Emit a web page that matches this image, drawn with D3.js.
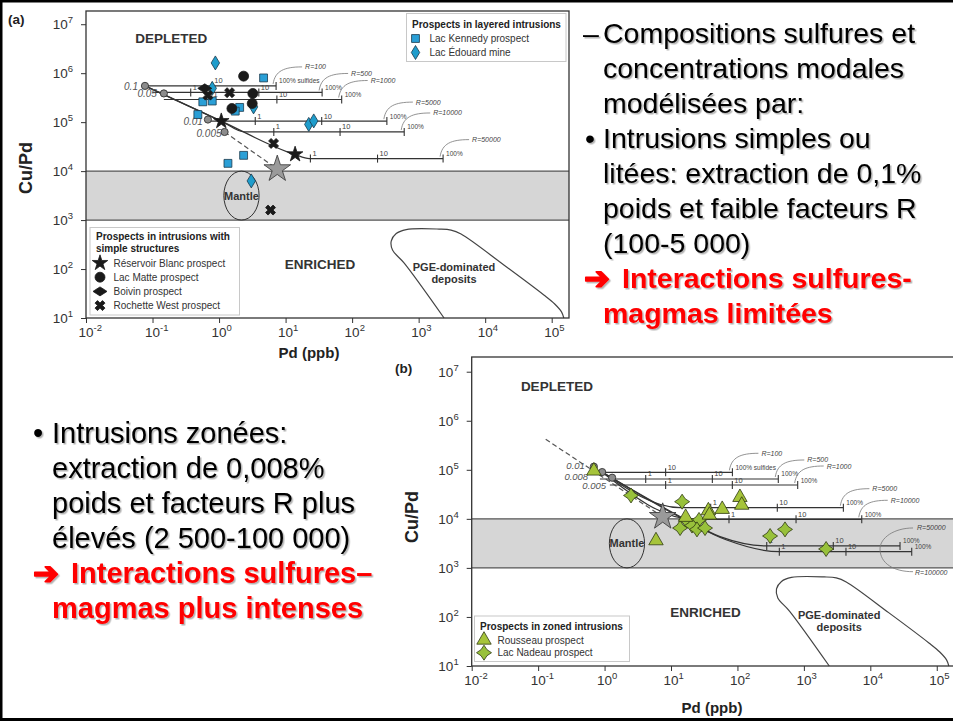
<!DOCTYPE html>
<html>
<head>
<meta charset="utf-8">
<script src="https://cdn.jsdelivr.net/npm/d3@7"></script>
<style>
  body { margin: 0; background: #fff; }
  svg { display: block; font-family: Arial, "Liberation Sans", sans-serif; }
</style>
</head>
<body>
<svg id="slide" width="953" height="721"></svg>
<script>
// ---------- data ----------
var xDecades = [-2, -1, 0, 1, 2, 3, 4, 5];
var yDecades = [1, 2, 3, 4, 5, 6, 7];

var mantleBand = [1e3, 1e4];           // grey Cu/Pd band
var mantlePd = [1.18, 4.0];             // mantle ellipse, Pd extent
var mantleCuPd = [1e3, 1e4];            // mantle ellipse, Cu/Pd extent
var primitiveMantle = [7.5, 1.1e4];     // grey star
var pgeOutline = [[2410, 10], [607, 132], [405, 244], [387, 372], [460, 530], [650, 640],
  [2030, 655], [3070, 625], [4340, 518], [19100, 121], [76200, 29.5], [111000, 19.3],
  [141000, 13.2], [152000, 10]];

// (a) simple / layered intrusions
var extractLabelsA = ['0.1', '0.05', '0.01', '0.005'];
var extractPtsA = [[0.077, 5.5e5], [0.148, 3.86e5], [0.68, 1.13e5], [1.21, 6.3e4]];
var dashedA = [[1.21, 6.3e4], [7.5, 1.1e4]];
var rFactorsA = [100, 500, 1000, 5000, 10000, 50000];
var rPathsA = [
  [[0.077, 5.5e5], [7.2, 5.5e5]],
  [[0.1, 4.04e5], [35.4, 4.04e5]],
  [[0.148, 2.9e5], [69.7, 2.9e5]],
  [[0.68, 1.05e5], [333, 1.05e5]],
  [[0.077, 5.5e5], [1.08, 1.05e5], [2.42, 6.3e4], [607, 6.3e4]],
  [[0.077, 5.5e5], [1.08, 1.05e5], [13.6, 2.2e4], [22.8, 1.8e4], [2330, 1.8e4]]
];
var rTicksA = [[0.79, 7.2], [0.375, 3.96, 35.4], [0.77, 7.4, 69.7], [3.5, 34.9, 333], [6.65, 65.9, 607], [23.6, 241, 2330]];
var rTickPctA = [[10, 100], [1, 10, 100], [1, 10, 100], [1, 10, 100], [1, 10, 100], [1, 10, 100]];

var kennedy = [[4.67, 8.0e5], [0.57, 2.6e5], [0.79, 2.7e5], [2.04, 2.0e5], [1.75, 1.68e5], [0.48, 1.43e5], [2.34, 2.1e4], [1.36, 1.44e4]];
var edouard = [[0.88, 1.62e6], [0.79, 4.9e5], [3.3, 2.05e5], [22.3, 9.0e4], [26.5, 1.06e5], [3.05, 6.3e3]];
var blanc = [[1.08, 1.05e5], [13.9, 2.2e4]];
var matte = [[2.34, 8.7e5], [3.22, 3.85e5], [3.15, 2.4e5], [1.56, 1.9e5]];
var boivin = [[0.61, 4.9e5]];
var rochette = [[1.44, 4.0e5], [0.68, 3.56e5], [6.6, 3.67e4], [5.94, 1.6e3]];

// (b) zoned intrusions
var extractLabelsB = ['0.01', '0.008', '0.005'];
var extractPtsB = [[0.69, 1.16e5], [0.92, 9.0e4], [1.3, 6.9e4]];
var dashedB = [[0.13, 4.19e5], [7.5, 1.1e4]];
var rFactorsB = [100, 500, 1000, 5000, 10000, 50000, 100000];
var rPathsB = [
  [[0.75, 8.9e4], [84, 8.9e4]],
  [[0.85, 6.5e4], [412, 6.5e4]],
  [[1.2, 4.9e4], [807, 4.9e4]],
  [[0.9, 9.1e4], [13.7, 1.69e4], [3930, 1.69e4]],
  [[0.9, 9.1e4], [21.7, 9.8e3], [7430, 9.8e3]],
  [[0.9, 9.1e4], [15.3, 1.03e4], [54.7, 4.33e3], [276, 2.8e3], [28000, 2.8e3]],
  [[0.92, 9.0e4], [16.3, 9.5e3], [69, 3.7e3], [427, 2.14e3], [42000, 2.14e3]]
];
var rTicksB = [[8.3, 84], [4.16, 41.9, 412], [8.3, 83.8, 807], [39.6, 398, 3930], [74.6, 762, 7430], [276, 2770, 28000], [427, 4300, 42000]];
var rTickPctB = [[10, 100], [1, 10, 100], [1, 10, 100], [1, 10, 100], [1, 10, 100], [1, 10, 100], [1, 10, 100]];

var rousseau = [[0.69, 9.5e4], [109, 2.75e4], [116, 1.91e4], [59, 1.57e4], [36.5, 1.47e4], [37.8, 1.2e4], [16.6, 1.08e4], [5.94, 3.6e3]];
var nadeau = [[2.5, 3.0e4], [14.7, 2.24e4], [16.8, 9.5e3], [26.4, 9.5e3], [13.7, 6.5e3], [20.7, 7.3e3], [24.6, 6.1e3], [32.5, 6.5e3], [310, 4.47e3], [520, 6.1e3], [2160, 2.43e3]];

// slide text
var rightText = ['Compositions sulfures et', 'concentrations modales', 'modélisées par:', 'Intrusions simples ou',
  'litées: extraction de 0,1%', 'poids et faible facteurs R', '(100-5 000)'];
var rightRed = ['Interactions sulfures-', 'magmas limitées'];
var leftText = ['Intrusions zonées:', 'extraction de 0,008%', 'poids et facteurs R plus', 'élevés (2 500-100 000)'];
var leftRed = ['Interactions sulfures–', 'magmas plus intenses'];

// ---------- drawing ----------
var svg = d3.select('#slide');
var defs = svg.append('defs');
defs.append('filter').attr('id', 'shadow')
  .attr('x', '-5%').attr('y', '-10%').attr('width', '115%').attr('height', '130%')
  .append('feDropShadow')
    .attr('dx', 1.5).attr('dy', 1.5).attr('stdDeviation', 0.7)
    .attr('flood-color', '#000').attr('flood-opacity', 0.3);

svg.append('rect').attr('width', 953).attr('height', 721).attr('fill', '#fff');

// Marker shapes used in both plots and legends.
var markerStyles = {
  kennedy: { d: d3.symbol(d3.symbolSquare, 62)(), fill: '#2a9fd6', stroke: '#1b3a4d' },
  edouard: { d: 'M0,-7L4.2,0L0,7L-4.2,0Z', fill: '#1f9dcc', stroke: '#1b3a4d' },
  blanc: { d: d3.symbol(d3.symbolStar, 75)(), fill: '#1a1a1a', stroke: '#1a1a1a' },
  matte: { d: d3.symbol(d3.symbolCircle, 78)(), fill: '#1a1a1a', stroke: '#1a1a1a' },
  boivin: { d: 'M-7,0L-3,-2.6L0,-4.5L3,-2.6L7,0L3,2.6L0,4.5L-3,2.6Z', fill: '#1a1a1a', stroke: '#1a1a1a' },
  rochette: { d: d3.symbol(d3.symbolCross, 62)(), rotate: 45, fill: '#1a1a1a', stroke: '#1a1a1a' },
  rousseau: { d: d3.symbol(d3.symbolTriangle, 90)(), fill: '#a6c43a', stroke: '#2f3a10' },
  nadeau: { d: 'M0,-7.5L3,-3L7.5,0L3,3L0,7.5L-3,3L-7.5,0L-3,-3Z', fill: '#98c13b', stroke: '#2f3a10' },
  pm: { d: d3.symbol(d3.symbolStar, 220)(), fill: '#9a9a9a', stroke: '#333' }
};

var markerTransform = function(m, px, py) {
  return 'translate(' + px + ',' + py + ')' + (m.rotate ? ' rotate(' + m.rotate + ')' : '');
};

var plotSeries = function(g, x, y, pts, key) {
  var m = markerStyles[key];
  g.selectAll(null).data(pts).enter().append('path')
    .attr('d', m.d)
    .attr('transform', function(d) { return markerTransform(m, x(d[0]), y(d[1])); })
    .attr('fill', m.fill).attr('stroke', m.stroke).attr('stroke-width', 0.8);
};

var drawLegend = function(g, box, titleLines, items) {
  g.append('rect').attr('x', box.x).attr('y', box.y).attr('width', box.w).attr('height', box.h)
    .attr('fill', '#fff').attr('stroke', '#c8c8c8').attr('stroke-width', 1);
  titleLines.forEach(function(t, i) {
    g.append('text').attr('x', box.tx).attr('y', box.ty + i * 11.5)
      .style('font-size', '10px').style('font-weight', 'bold').attr('fill', '#222').text(t);
  });
  items.forEach(function(it, i) {
    var yy = box.iy + i * box.step;
    var m = markerStyles[it[1]];
    g.append('path').attr('d', m.d).attr('transform', markerTransform(m, box.mx, yy))
      .attr('fill', m.fill).attr('stroke', m.stroke).attr('stroke-width', 0.8);
    g.append('text').attr('x', box.lx).attr('y', yy + 3.5)
      .style('font-size', '10px').attr('fill', '#333').text(it[0]);
  });
};

var drawChart = function(cfg) {
  var g = svg.append('g');
  var x = d3.scaleLog().domain([1e-2, Math.pow(10, cfg.xMaxLog)]).range([cfg.left, cfg.right]);
  var y = d3.scaleLog().domain([10, Math.pow(10, cfg.yMaxLog)]).range([cfg.bottom, cfg.top]);
  var plotW = Math.min(cfg.right, 953) - cfg.left;
  var xy = d3.line().x(function(d) { return x(d[0]); }).y(function(d) { return y(d[1]); });

  // Grey "mantle" Cu/Pd band.
  g.append('rect').attr('x', cfg.left).attr('width', plotW)
    .attr('y', y(mantleBand[1])).attr('height', y(mantleBand[0]) - y(mantleBand[1]))
    .attr('fill', '#d6d6d6');
  mantleBand.forEach(function(v) {
    g.append('line').attr('x1', cfg.left).attr('x2', cfg.left + plotW)
      .attr('y1', y(v)).attr('y2', y(v)).attr('stroke', '#555').attr('stroke-width', 1.3);
  });

  // Mantle ellipse.
  var ex0 = x(mantlePd[0]), ex1 = x(mantlePd[1]), ey0 = y(mantleCuPd[1]), ey1 = y(mantleCuPd[0]);
  g.append('ellipse').attr('cx', (ex0 + ex1) / 2).attr('cy', (ey0 + ey1) / 2)
    .attr('rx', (ex1 - ex0) / 2).attr('ry', (ey1 - ey0) / 2)
    .attr('fill', 'none').attr('stroke', '#333').attr('stroke-width', 1);
  g.append('text').attr('x', (ex0 + ex1) / 2).attr('y', (ey0 + ey1) / 2 + 4)
    .style('text-anchor', 'middle').style('font-size', '11px').style('font-weight', 'bold')
    .attr('fill', '#333').text('Mantle');

  // PGE-dominated deposits field.
  g.append('path').datum(pgeOutline)
    .attr('d', xy.curve(d3.curveCatmullRom.alpha(0.5)))
    .attr('fill', 'none').attr('stroke', '#444').attr('stroke-width', 1.2);
  xy.curve(d3.curveLinear);
  g.append('text').attr('x', x(3400)).attr('y', y(92))
    .style('text-anchor', 'middle').style('font-size', '11px').style('font-weight', 'bold')
    .attr('fill', '#333').text('PGE-dominated');
  g.append('text').attr('x', x(3400)).attr('y', y(92) + 12)
    .style('text-anchor', 'middle').style('font-size', '11px').style('font-weight', 'bold')
    .attr('fill', '#333').text('deposits');

  // Field names.
  g.append('text').attr('x', x(0.055)).attr('y', y(4.1e6))
    .style('font-size', '13.5px').style('font-weight', 'bold').attr('fill', '#333').text('DEPLETED');
  g.append('text').attr('x', x(33)).attr('y', y(100))
    .style('text-anchor', 'middle').style('font-size', '13.5px').style('font-weight', 'bold')
    .attr('fill', '#333').text('ENRICHED');

  // Model R-factor lines with 1 %, 10 % and 100 % sulfide ticks.
  var line = d3.line().x(function(d) { return x(d[0]); }).y(function(d) { return y(d[1]); })
    .curve(d3.curveMonotoneX);
  cfg.rPaths.forEach(function(p, i) {
    g.append('path').datum(p).attr('d', line)
      .attr('fill', 'none').attr('stroke', '#333').attr('stroke-width', 1.2);
    var level = y(p[p.length - 1][1]);
    cfg.rTicks[i].forEach(function(t, j) {
      var tx = x(t), pct = cfg.rPct[i][j];
      g.append('line').attr('x1', tx).attr('x2', tx).attr('y1', level - 4).attr('y2', level + 4)
        .attr('stroke', '#333').attr('stroke-width', 1.1);
      g.append('text').attr('x', tx + (pct === 100 ? 3 : 2)).attr('y', level - 2.5)
        .style('font-size', pct === 100 ? '6.5px' : '7.5px').attr('fill', '#444')
        .text(pct === 100 ? (i === 0 ? '100% sulfides' : '100%') : String(pct));
    });
    if (cfg.bracket && cfg.bracket.indexOf(i) >= 0) return;
    var ends = cfg.rTicks[i];
    var x0 = x(ends[ends.length - 1]);
    g.append('path')
      .attr('d', 'M' + (x0 - 3) + ',' + (level - 2) + ' C' + (x0 - 1) + ',' + (level - 15) + ' ' +
        (x0 + 8) + ',' + (level - 19) + ' ' + (x0 + 26) + ',' + (level - 19))
      .attr('fill', 'none').attr('stroke', '#777').attr('stroke-width', 0.8);
    g.append('text').attr('x', x0 + 29).attr('y', level - 16.5)
      .style('font-size', '7px').style('font-style', 'italic').attr('fill', '#444')
      .text('R=' + cfg.rFactors[i]);
  });

  // Bracket joining the two highest R factors in (b).
  if (cfg.bracket) {
    var iTop = cfg.bracket[0], iBot = cfg.bracket[1];
    var tTop = cfg.rTicks[iTop];
    var pTop = cfg.rPaths[iTop], pBot = cfg.rPaths[iBot];
    var bx = x(tTop[tTop.length - 1]);
    var byTop = y(pTop[pTop.length - 1][1]), byBot = y(pBot[pBot.length - 1][1]);
    g.append('path')
      .attr('d', 'M' + (bx + 13) + ',' + (byTop - 18) + ' C' + (bx - 6) + ',' + (byTop - 18) + ' ' +
        (bx - 20) + ',' + (byTop - 8) + ' ' + (bx - 20) + ',' + ((byTop + byBot) / 2) +
        ' C' + (bx - 20) + ',' + (byBot + 12) + ' ' + (bx - 6) + ',' + (byBot + 20) + ' ' + (bx + 13) + ',' + (byBot + 20))
      .attr('fill', 'none').attr('stroke', '#777').attr('stroke-width', 0.8);
    g.append('text').attr('x', bx + 17).attr('y', byTop - 15.5)
      .style('font-size', '7px').style('font-style', 'italic').attr('fill', '#444').text('R=' + cfg.rFactors[iTop]);
    g.append('text').attr('x', bx + 15).attr('y', byBot + 23)
      .style('font-size', '7px').style('font-style', 'italic').attr('fill', '#444').text('R=' + cfg.rFactors[iBot]);
  }

  // Dashed fractionation trend to the primitive mantle.
  g.append('path').datum(cfg.dashed).attr('d', xy)
    .attr('fill', 'none').attr('stroke', '#555').attr('stroke-width', 1.2).attr('stroke-dasharray', '5,3');

  // Extraction starting points.
  g.selectAll(null).data(cfg.extractPts).enter().append('circle')
    .attr('cx', function(d) { return x(d[0]); }).attr('cy', function(d) { return y(d[1]); })
    .attr('r', 3.6).attr('fill', '#8c8c8c').attr('stroke', '#333').attr('stroke-width', 0.9);
  g.selectAll(null).data(cfg.extractPts).enter().append('text')
    .attr('x', function(d, i) { return x(d[0]) + cfg.extractOff[i][0]; })
    .attr('y', function(d, i) { return y(d[1]) + cfg.extractOff[i][1]; })
    .style('text-anchor', 'end').style('font-size', cfg.extractSize).style('font-style', 'italic')
    .attr('fill', '#555').text(function(d, i) { return cfg.extractLabels[i]; });

  // Prospect analyses.
  cfg.series.forEach(function(s) { plotSeries(g, x, y, s[0], s[1]); });
  plotSeries(g, x, y, [primitiveMantle], 'pm');

  // Legends.
  cfg.legends.forEach(function(l) { drawLegend(g, l.box, l.title, l.items); });

  // Frame.
  g.append('rect').attr('x', cfg.left).attr('y', cfg.top)
    .attr('width', cfg.right - cfg.left).attr('height', cfg.bottom - cfg.top)
    .attr('fill', 'none').attr('stroke', '#333').attr('stroke-width', 1.3);

  // Axes with 10^n labels.
  var yAxis = d3.axisLeft(y).tickValues(yDecades.map(function(p) { return Math.pow(10, p); }))
    .tickSize(5).tickFormat('');
  g.append('g').attr('transform', 'translate(' + cfg.left + ',0)').call(yAxis)
    .call(function(s) { s.select('.domain').remove(); s.selectAll('line').attr('stroke', '#333'); });
  var xAxis = d3.axisBottom(x).tickValues(xDecades.map(function(p) { return Math.pow(10, p); }))
    .tickSize(5).tickFormat('');
  g.append('g').attr('transform', 'translate(0,' + cfg.bottom + ')').call(xAxis)
    .call(function(s) { s.select('.domain').remove(); s.selectAll('line').attr('stroke', '#333'); });

  yDecades.forEach(function(p) {
    var t = g.append('text').attr('x', cfg.left - 13).attr('y', y(Math.pow(10, p)) + 5)
      .style('text-anchor', 'end').style('font-size', '13.5px').attr('fill', '#333');
    t.append('tspan').text('10');
    t.append('tspan').attr('dy', -6).style('font-size', '9.5px').text(p);
  });
  xDecades.forEach(function(p) {
    var t = g.append('text').attr('x', x(Math.pow(10, p)) - 7.5).attr('y', cfg.bottom + 19)
      .style('font-size', '13.5px').attr('fill', '#333');
    t.append('tspan').text('10');
    t.append('tspan').attr('dy', -6).style('font-size', '9.5px').text(p);
  });

  // Axis titles and panel letter.
  g.append('text').attr('transform', 'translate(' + cfg.yTitle[0] + ',' + cfg.yTitle[1] + ') rotate(-90)')
    .style('text-anchor', 'middle').style('font-size', '18px').style('font-weight', 'bold')
    .attr('fill', '#222').text('Cu/Pd');
  g.append('text').attr('x', cfg.xTitle[0]).attr('y', cfg.xTitle[1])
    .style('text-anchor', 'middle').style('font-size', '15px').style('font-weight', 'bold')
    .attr('fill', '#222').text('Pd (ppb)');
  g.append('text').attr('x', cfg.panel[0]).attr('y', cfg.panel[1])
    .style('font-size', '13.5px').style('font-weight', 'bold').attr('fill', '#222').text(cfg.panelLabel);
};

drawChart({
  left: 86, right: 569, top: 11, bottom: 318, xMaxLog: 5.26, yMaxLog: 7.27,
  rPaths: rPathsA, rTicks: rTicksA, rPct: rTickPctA, rFactors: rFactorsA,
  dashed: dashedA, extractPts: extractPtsA, extractLabels: extractLabelsA,
  extractOff: [[-7, 4], [-7, 4], [-5, 5], [-3, 5]], extractSize: '10px',
  series: [[kennedy, 'kennedy'], [edouard, 'edouard'], [matte, 'matte'], [boivin, 'boivin'],
    [rochette, 'rochette'], [blanc, 'blanc']],
  legends: [
    { box: { x: 406.5, y: 13.5, w: 159.5, h: 48, tx: 412, ty: 27.5, mx: 415.5, lx: 429.5, iy: 38.5, step: 14 },
      title: ['Prospects in layered intrusions'],
      items: [['Lac Kennedy prospect', 'kennedy'], ['Lac Édouard mine', 'edouard']] },
    { box: { x: 90, y: 227.5, w: 149.5, h: 87.5, tx: 96, ty: 240, mx: 100, lx: 113.5, iy: 263, step: 14.2 },
      title: ['Prospects in intrusions with', 'simple structures'],
      items: [['Réservoir Blanc prospect', 'blanc'], ['Lac Matte prospect', 'matte'],
        ['Boivin prospect', 'boivin'], ['Rochette West prospect', 'rochette']] }
  ],
  yTitle: [32, 168], xTitle: [309, 358], panel: [8, 24], panelLabel: '(a)'
});

drawChart({
  left: 471.7, right: 962, top: 357, bottom: 666, xMaxLog: 5.38, yMaxLog: 7.3,
  rPaths: rPathsB, rTicks: rTicksB, rPct: rTickPctB, rFactors: rFactorsB, bracket: [5, 6],
  dashed: dashedB, extractPts: extractPtsB, extractLabels: extractLabelsB,
  extractOff: [[-9, 2], [-14, 8], [-6, 11]], extractSize: '9.5px',
  series: [[nadeau, 'nadeau'], [rousseau, 'rousseau']],
  legends: [
    { box: { x: 474.5, y: 616, w: 155, h: 45.5, tx: 480, ty: 629.5, mx: 484, lx: 497.5, iy: 640, step: 12.7 },
      title: ['Prospects in zoned intrusions'],
      items: [['Rousseau prospect', 'rousseau'], ['Lac Nadeau prospect', 'nadeau']] }
  ],
  yTitle: [418, 517], xTitle: [712, 713], panel: [395, 373], panelLabel: '(b)'
});

// ---------- slide text ----------
var txt = svg.append('g').attr('filter', 'url(#shadow)').style('font-size', '28.5px');
var addLine = function(x, yy, s, opts) {
  opts = opts || {};
  var t = txt.append('text').attr('x', x).attr('y', yy)
    .attr('fill', opts.red ? '#ff0000' : '#000')
    .style('font-weight', opts.red ? 'bold' : 'normal')
    .style('font-size', opts.size || null)
    .style('font-family', opts.family || null)
    .text(s);
  if (opts.heavy) t.attr('stroke', '#ff0000').attr('stroke-width', 1.6).attr('stroke-linejoin', 'round');
};

var arrowOpts = { red: true, heavy: true, size: '31px', family: '"DejaVu Sans", sans-serif' };

// Right block.
addLine(583, 43, '–');
addLine(585, 148, '•');
rightText.forEach(function(s, i) { addLine(603, 43 + i * 35, s); });
addLine(584, 289, '➔', arrowOpts);
addLine(622, 288, rightRed[0], { red: true });
addLine(603, 323, rightRed[1], { red: true });

// Bottom-left block.
addLine(33, 443, '•', { size: '29px' });
leftText.forEach(function(s, i) { addLine(52, 443 + i * 35, s, { size: '29px' }); });
addLine(33, 584, '➔', arrowOpts);
addLine(71, 583, leftRed[0], { red: true, size: '29px' });
addLine(52, 618, leftRed[1], { red: true, size: '29px' });

// Slide border.
svg.append('rect').attr('x', 0).attr('y', 0).attr('width', 2.5).attr('height', 721).attr('fill', '#000');
svg.append('rect').attr('x', 0).attr('y', 0).attr('width', 953).attr('height', 2.5).attr('fill', '#000');
svg.append('rect').attr('x', 0).attr('y', 718).attr('width', 953).attr('height', 3).attr('fill', '#000');
</script>
</body>
</html>
